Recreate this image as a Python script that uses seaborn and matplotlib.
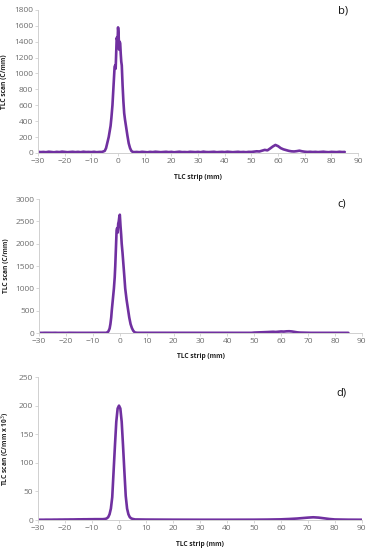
import numpy as np
import pandas as pd
import seaborn as sns
import matplotlib.pyplot as plt

# ---- panel b) : noisy scan, main peak at 0 and small bump near 59 mm
b_left_x = list(range(-30, -6))
b_left_y = [14, 10, 12, 9, 15, 11, 8, 13, 10, 16, 12, 9, 11, 14, 10, 13, 9, 15, 11, 12, 10, 14, 9, 12]
b_peak_x = [-6, -5, -4.5, -4, -3.5, -3.0, -2.8, -2.5, -2.1, -1.8, -1.5, -1.3, -1.1, -0.9, -0.7, -0.5,
            -0.3, -0.1, 0, 0.2, 0.4, 0.6, 0.8, 1.0, 1.2, 1.4, 1.7, 2.0, 2.3, 2.6, 3.0, 3.5, 4.0, 4.5, 5.0, 5.5]
b_peak_y = [12, 25, 60, 130, 200, 300, 340, 440, 600, 780, 950, 1080, 1100, 1060, 1250, 1450,
            1420, 1480, 1580, 1500, 1300, 1400, 1380, 1250, 1150, 1100, 850, 650, 500, 420, 330, 220, 120, 60, 25, 12]
b_mid_x = list(range(6, 50))
b_mid_y = [10, 12, 9, 14, 11, 8, 13, 10, 15, 12, 9, 11, 14, 10, 13, 8, 12, 15, 10, 11,
           9, 14, 12, 10, 13, 9, 16, 11, 10, 12, 14, 9, 11, 13, 10, 15, 12, 9, 11, 14,
           10, 12, 9, 13]
b_right_x = list(range(50, 86))
b_right_y = [12, 16, 20, 18, 28, 38, 32, 55, 80, 100, 85, 60, 45, 35, 26, 20, 18, 22, 28, 20,
             15, 12, 14, 11, 13, 10, 12, 15, 11, 9, 13, 12, 10, 14, 11, 12]

# ---- panel c)
c_left_x = list(range(-30, -6))
c_left_y = [4, 3, 5, 4, 3, 4, 5, 3, 4, 4, 3, 5, 4, 3, 4, 5, 4, 3, 4, 4, 5, 3, 4, 4]
c_peak_x = [-6, -5, -4.3, -3.8, -3.5, -3.2, -3, -2.6, -2.2, -1.9, -1.7, -1.4, -1.2, -1.0, -0.8, -0.6,
            -0.4, -0.2, 0, 0.25, 0.5, 0.7, 1.0, 1.4, 1.7, 2.0, 2.5, 3.1, 3.5, 4.0, 4.5, 5.0, 5.6, 6.5]
c_peak_y = [3, 5, 30, 100, 200, 350, 500, 750, 1000, 1250, 1500, 2000, 2300, 2350, 2250, 2450,
            2500, 2600, 2650, 2400, 2200, 2000, 1800, 1500, 1250, 1000, 750, 500, 350, 200, 110, 50, 12, 5]
c_mid_x = list(range(7, 50))
c_mid_y = [5, 4, 3, 4, 5, 4, 3, 4, 4, 5, 3, 4, 4, 5, 4, 3, 4, 5, 4, 4,
           3, 4, 5, 4, 3, 4, 4, 5, 4, 3, 4, 4, 5, 3, 4, 4, 5, 4, 3, 4,
           4, 5, 4]
c_right_x = list(range(50, 86))
c_right_y = [10, 12, 15, 18, 20, 22, 25, 28, 24, 30, 35, 32, 38, 40, 35, 25, 15, 10, 8, 6,
             5, 4, 5, 4, 4, 5, 3, 4, 4, 5, 4, 3, 4, 4, 5, 4]

# ---- panel d) : smooth scan (C/mm x 10^3)
d_left_x = list(range(-30, -6))
d_left_y = [0.5, 0.5, 0.5, 0.6, 0.6, 0.6, 0.7, 0.7, 0.8, 0.8, 0.9, 0.9, 1.0, 1.0, 1.1, 1.2,
            1.2, 1.3, 1.3, 1.4, 1.4, 1.5, 1.5, 1.5]
d_peak_x = [-6, -5, -4.5, -4, -3.5, -3, -2.5, -2, -1.5, -1, -0.5, 0, 0.5, 1, 1.5, 2, 2.5, 3, 3.5, 4, 4.5, 5, 6]
d_peak_y = [1.5, 2, 3, 5, 10, 20, 40, 85, 130, 172, 195, 200, 195, 172, 130, 85, 42, 20, 10, 5, 3, 2, 1]
d_right_x = [7, 10, 20, 30, 40, 50, 55, 60, 63, 66, 68, 70, 72, 74, 76, 78, 80, 85, 90]
d_right_y = [1, 0.8, 0.6, 0.5, 0.5, 0.6, 0.8, 1.2, 1.8, 2.6, 3.4, 4.2, 4.8, 4.2, 3.0, 1.8, 1.0, 0.6, 0.5]

x_ticks = list(range(-30, 91, 10))

panels = [
    dict(tag="b)", x=b_left_x + b_peak_x + b_mid_x + b_right_x,
         y=b_left_y + b_peak_y + b_mid_y + b_right_y,
         yticks=list(range(0, 1801, 200)), ylabel="TLC scan (C/mm)",
         rect=[0.102, 0.722, 0.858, 0.260], tagpos=(0.953, 0.99), ylab_x=-0.094),
    dict(tag="c)", x=c_left_x + c_peak_x + c_mid_x + c_right_x,
         y=c_left_y + c_peak_y + c_mid_y + c_right_y,
         yticks=list(range(0, 3001, 500)), ylabel="TLC scan (C/mm)",
         rect=[0.105, 0.3945, 0.865, 0.2435], tagpos=(0.938, 0.963), ylab_x=-0.09),
    dict(tag="d)", x=d_left_x + d_peak_x + d_right_x,
         y=d_left_y + d_peak_y + d_right_y,
         yticks=list(range(0, 251, 50)), ylabel="TLC scan (C/mm x 10$^3$)",
         rect=[0.102, 0.0545, 0.868, 0.260], tagpos=(0.938, 0.888), ylab_x=-0.08),
]

sns.set_style("ticks")
plt.rcParams['font.family'] = ['Open Sans', 'DejaVu Sans']

purple = "#7030A0"
grey_axis = "#d0d0d0"
grey_text = "#6e6e6e"

fig = plt.figure(figsize=(3.73, 5.5), dpi=100)

for p in panels:
    ax = fig.add_axes(p["rect"])
    df = pd.DataFrame({"x": p["x"], "y": p["y"]}).sort_values("x")
    sns.lineplot(data=df, x="x", y="y", ax=ax, color=purple, linewidth=1.9,
                 sort=False, estimator=None)
    ax.set_xlim(-30, 90)
    ax.set_ylim(0, p["yticks"][-1])
    ax.set_xticks(x_ticks)
    ax.set_yticks(p["yticks"])
    ax.tick_params(labelsize=6, colors=grey_axis, labelcolor=grey_text, length=2, width=0.6, pad=1.5)
    for s in ["top", "right"]:
        ax.spines[s].set_visible(False)
    for s in ["left", "bottom"]:
        ax.spines[s].set_color(grey_axis)
        ax.spines[s].set_linewidth(0.7)
    ax.set_xlabel("TLC strip (mm)", fontsize=4.8, fontweight="bold", color="#222222")
    ax.set_ylabel(p["ylabel"], fontsize=4.8, fontweight="bold", color="#222222")
    ax.yaxis.set_label_coords(p["ylab_x"], 0.5)
    ax.xaxis.set_label_coords(0.5, -0.15)
    ax.text(p["tagpos"][0], p["tagpos"][1], p["tag"], transform=ax.transAxes,
            fontsize=8, ha="center", va="center", color="#111111")

fig.savefig("out.png", dpi=100)
